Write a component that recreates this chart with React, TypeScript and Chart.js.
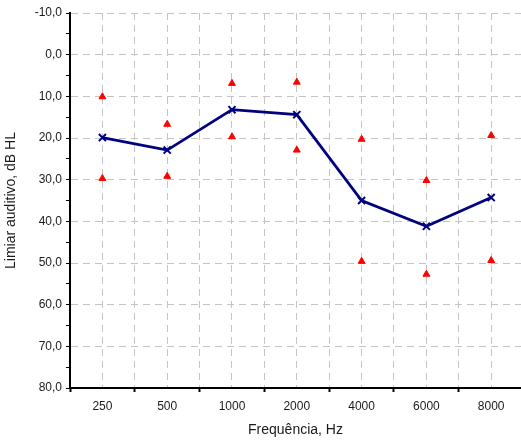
import React, { useEffect, useRef } from "react";
import { Chart, registerables } from "chart.js";

Chart.register(...registerables);

const frequencies = ["250", "500", "1000", "2000", "4000", "6000", "8000"];
const thresholds = [19.9, 22.9, 13.2, 14.4, 35.0, 41.2, 34.3];
const upperLimits = [10.1, 16.7, 6.9, 6.6, 20.3, 30.2, 19.4];
const lowerLimits = [29.7, 29.2, 19.7, 22.9, 49.6, 52.7, 49.4];
const yTickValues = [-10, -5, 0, 5, 10, 15, 20, 25, 30, 35, 40, 45, 50, 55, 60, 65, 70, 75, 80];

const FONT = "'Liberation Sans', Arial, sans-serif";
const GRID = "#c4c4c4";

export default function App() {
  const ref = useRef<HTMLCanvasElement | null>(null);

  useEffect(() => {
    if (!ref.current) return;
    const xTicks: number[] = [];
    for (let i = -1; i <= 12; i++) xTicks.push(i / 2);

    const chart = new Chart(ref.current, {
      type: "scatter",
      data: {
        datasets: [
          {
            label: "Limiar",
            data: thresholds.map((v, i) => ({ x: i, y: v })),
            showLine: true,
            borderColor: "#000080",
            backgroundColor: "#000080",
            borderWidth: 2.8,
            pointStyle: "crossRot",
            pointRadius: 5,
            pointBorderWidth: 2,
            order: 0,
          },
          {
            label: "Superior",
            data: upperLimits.map((v, i) => ({ x: i, y: v })),
            showLine: false,
            borderColor: "#ff0000",
            backgroundColor: "#ff0000",
            pointStyle: "triangle",
            pointRadius: 4,
            pointBorderWidth: 1,
            order: 1,
          },
          {
            label: "Inferior",
            data: lowerLimits.map((v, i) => ({ x: i, y: v })),
            showLine: false,
            borderColor: "#ff0000",
            backgroundColor: "#ff0000",
            pointStyle: "triangle",
            pointRadius: 4,
            pointBorderWidth: 1,
            order: 1,
          },
        ],
      },
      options: {
        responsive: false,
        animation: false,
        layout: { autoPadding: false, padding: { top: 13, left: 0, right: 0, bottom: 0 } },
        plugins: { legend: { display: false }, tooltip: { enabled: false } },
        scales: {
          x: {
            type: "linear",
            min: -0.5,
            max: 6.46,
            afterBuildTicks: (scale: any) => {
              scale.ticks = xTicks.map((v) => ({ value: v }));
            },
            afterFit: (scale: any) => {
              scale.height = 57;
              scale.paddingRight = 0;
              scale.paddingLeft = 0;
            },
            ticks: {
              autoSkip: false,
              maxRotation: 0,
              padding: 7,
              color: "#1a1a1a",
              font: { family: FONT, size: 12 },
              callback: (v: any) => (Number.isInteger(v) ? frequencies[v] : ""),
            },
            grid: {
              color: GRID,
              lineWidth: 1,
              drawTicks: true,
              tickLength: 4,
              tickWidth: 2,
              tickBorderDash: [],
              tickColor: (ctx: any) =>
                ctx.tick && Number.isInteger(ctx.tick.value) ? "rgba(0,0,0,0)" : "#000",
            },
            border: { display: true, color: "#000", width: 2, dash: [7, 5] },
            title: {
              display: true,
              text: "Frequência, Hz",
              color: "#1a1a1a",
              font: { family: FONT, size: 14 },
              padding: { top: 0, bottom: 6 },
            },
          },
          y: {
            type: "linear",
            reverse: true,
            min: -10,
            max: 80,
            afterBuildTicks: (scale: any) => {
              scale.ticks = yTickValues.map((v) => ({ value: v }));
            },
            afterFit: (scale: any) => {
              scale.width = 70;
            },
            ticks: {
              autoSkip: false,
              padding: 4,
              color: "#1a1a1a",
              font: { family: FONT, size: 12 },
              callback: (v: any) => (v % 10 === 0 ? Number(v).toFixed(1).replace(".", ",") : ""),
            },
            grid: {
              color: (ctx: any) =>
                ctx.tick && ctx.tick.value % 10 === 0 ? GRID : "rgba(0,0,0,0)",
              lineWidth: 1,
              drawTicks: true,
              tickLength: 4,
              tickWidth: 1,
              tickBorderDash: [],
              tickColor: "#000",
            },
            border: { display: true, color: "#000", width: 2, dash: [7, 5] },
            title: {
              display: true,
              text: "Limiar auditivo, dB HL",
              color: "#1a1a1a",
              font: { family: FONT, size: 14 },
              padding: { top: 3, bottom: 0 },
            },
          },
        },
      },
    });
    return () => chart.destroy();
  }, []);

  return (
    <div style={{ position: "absolute", left: 0, top: 0, width: 521, height: 445, background: "#fff" }}>
      <canvas ref={ref} width={521} height={445} style={{ display: "block", width: 521, height: 445 }} />
    </div>
  );
}
